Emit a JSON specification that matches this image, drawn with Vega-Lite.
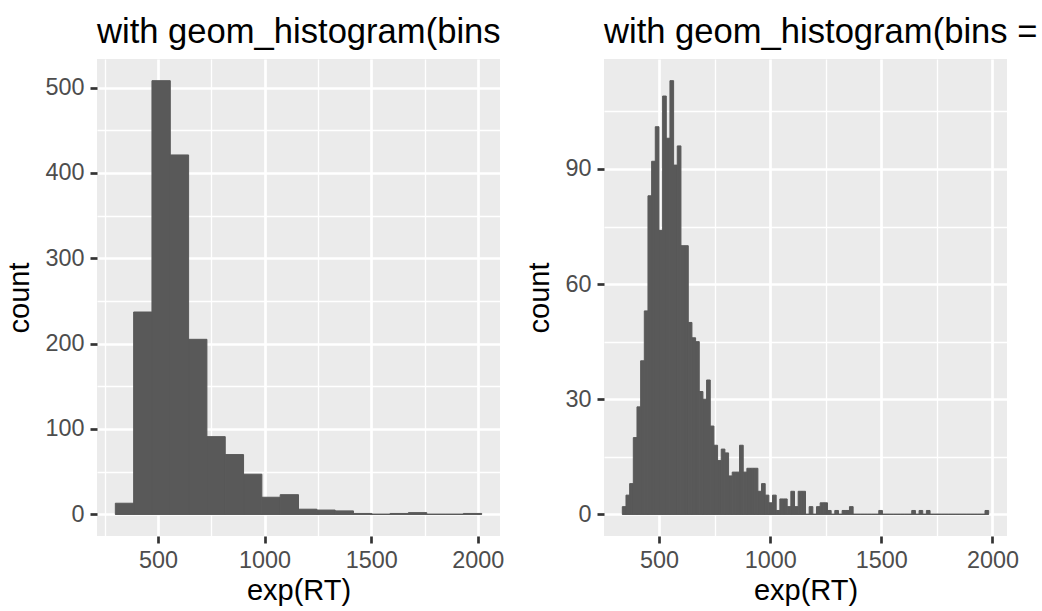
{
  "$schema": "https://vega.github.io/schema/vega-lite/v6.json",
  "padding": {"left": 5, "top": 15, "right": 0, "bottom": 0},
  "bounds": "flush",
  "spacing": 104,
  "datasets": {
    "bins20": [
      {"bin_start": 300.1, "bin_end": 386.0, "count": 13},
      {"bin_start": 386.0, "bin_end": 471.9, "count": 237},
      {"bin_start": 471.9, "bin_end": 557.8, "count": 508},
      {"bin_start": 557.8, "bin_end": 643.7, "count": 421},
      {"bin_start": 643.7, "bin_end": 729.6, "count": 205},
      {"bin_start": 729.6, "bin_end": 815.5, "count": 91},
      {"bin_start": 815.5, "bin_end": 901.4, "count": 70},
      {"bin_start": 901.4, "bin_end": 987.3, "count": 47},
      {"bin_start": 987.3, "bin_end": 1073.2, "count": 20},
      {"bin_start": 1073.2, "bin_end": 1159.1, "count": 23},
      {"bin_start": 1159.1, "bin_end": 1245.0, "count": 6},
      {"bin_start": 1245.0, "bin_end": 1330.9, "count": 5},
      {"bin_start": 1330.9, "bin_end": 1416.8, "count": 4},
      {"bin_start": 1416.8, "bin_end": 1502.7, "count": 1},
      {"bin_start": 1502.7, "bin_end": 1588.6, "count": 0},
      {"bin_start": 1588.6, "bin_end": 1674.5, "count": 1},
      {"bin_start": 1674.5, "bin_end": 1760.4, "count": 2},
      {"bin_start": 1760.4, "bin_end": 1846.3, "count": 0},
      {"bin_start": 1846.3, "bin_end": 1932.2, "count": 0},
      {"bin_start": 1932.2, "bin_end": 2018.1, "count": 1}
    ],
    "bins100": [
      {"bin_start": 334.76, "bin_end": 351.24, "count": 2},
      {"bin_start": 351.24, "bin_end": 367.73, "count": 5},
      {"bin_start": 367.73, "bin_end": 384.21, "count": 8},
      {"bin_start": 384.21, "bin_end": 400.70, "count": 20},
      {"bin_start": 400.70, "bin_end": 417.18, "count": 28},
      {"bin_start": 417.18, "bin_end": 433.67, "count": 40},
      {"bin_start": 433.67, "bin_end": 450.15, "count": 53},
      {"bin_start": 450.15, "bin_end": 466.64, "count": 83},
      {"bin_start": 466.64, "bin_end": 483.12, "count": 92},
      {"bin_start": 483.12, "bin_end": 499.61, "count": 101},
      {"bin_start": 499.61, "bin_end": 516.09, "count": 74},
      {"bin_start": 516.09, "bin_end": 532.58, "count": 109},
      {"bin_start": 532.58, "bin_end": 549.06, "count": 98},
      {"bin_start": 549.06, "bin_end": 565.55, "count": 113},
      {"bin_start": 565.55, "bin_end": 582.03, "count": 91},
      {"bin_start": 582.03, "bin_end": 598.52, "count": 96},
      {"bin_start": 598.52, "bin_end": 615.00, "count": 70},
      {"bin_start": 615.00, "bin_end": 631.49, "count": 70},
      {"bin_start": 631.49, "bin_end": 647.97, "count": 50},
      {"bin_start": 647.97, "bin_end": 664.46, "count": 46},
      {"bin_start": 664.46, "bin_end": 680.94, "count": 45},
      {"bin_start": 680.94, "bin_end": 697.43, "count": 32},
      {"bin_start": 697.43, "bin_end": 713.91, "count": 30},
      {"bin_start": 713.91, "bin_end": 730.40, "count": 35},
      {"bin_start": 730.40, "bin_end": 746.88, "count": 23},
      {"bin_start": 746.88, "bin_end": 763.37, "count": 18},
      {"bin_start": 763.37, "bin_end": 779.85, "count": 14},
      {"bin_start": 779.85, "bin_end": 796.34, "count": 17},
      {"bin_start": 796.34, "bin_end": 812.82, "count": 16},
      {"bin_start": 812.82, "bin_end": 829.31, "count": 10},
      {"bin_start": 829.31, "bin_end": 845.79, "count": 11},
      {"bin_start": 845.79, "bin_end": 862.28, "count": 11},
      {"bin_start": 862.28, "bin_end": 878.76, "count": 18},
      {"bin_start": 878.76, "bin_end": 895.25, "count": 11},
      {"bin_start": 895.25, "bin_end": 911.73, "count": 12},
      {"bin_start": 911.73, "bin_end": 928.22, "count": 12},
      {"bin_start": 928.22, "bin_end": 944.70, "count": 12},
      {"bin_start": 944.70, "bin_end": 961.19, "count": 6},
      {"bin_start": 961.19, "bin_end": 977.67, "count": 8},
      {"bin_start": 977.67, "bin_end": 994.16, "count": 5},
      {"bin_start": 994.16, "bin_end": 1010.64, "count": 3},
      {"bin_start": 1010.64, "bin_end": 1027.13, "count": 5},
      {"bin_start": 1027.13, "bin_end": 1043.61, "count": 1},
      {"bin_start": 1043.61, "bin_end": 1060.10, "count": 4},
      {"bin_start": 1060.10, "bin_end": 1076.58, "count": 4},
      {"bin_start": 1076.58, "bin_end": 1093.07, "count": 2},
      {"bin_start": 1093.07, "bin_end": 1109.55, "count": 6},
      {"bin_start": 1109.55, "bin_end": 1126.04, "count": 2},
      {"bin_start": 1126.04, "bin_end": 1142.52, "count": 6},
      {"bin_start": 1142.52, "bin_end": 1159.01, "count": 6},
      {"bin_start": 1159.01, "bin_end": 1175.49, "count": 0},
      {"bin_start": 1175.49, "bin_end": 1191.98, "count": 2},
      {"bin_start": 1191.98, "bin_end": 1208.46, "count": 0},
      {"bin_start": 1208.46, "bin_end": 1224.95, "count": 2},
      {"bin_start": 1224.95, "bin_end": 1241.43, "count": 3},
      {"bin_start": 1241.43, "bin_end": 1257.92, "count": 3},
      {"bin_start": 1257.92, "bin_end": 1274.40, "count": 1},
      {"bin_start": 1274.40, "bin_end": 1290.89, "count": 0},
      {"bin_start": 1290.89, "bin_end": 1307.37, "count": 1},
      {"bin_start": 1307.37, "bin_end": 1323.86, "count": 0},
      {"bin_start": 1323.86, "bin_end": 1340.34, "count": 1},
      {"bin_start": 1340.34, "bin_end": 1356.83, "count": 1},
      {"bin_start": 1356.83, "bin_end": 1373.31, "count": 2},
      {"bin_start": 1373.31, "bin_end": 1389.80, "count": 0},
      {"bin_start": 1389.80, "bin_end": 1406.28, "count": 0},
      {"bin_start": 1406.28, "bin_end": 1422.77, "count": 0},
      {"bin_start": 1422.77, "bin_end": 1439.25, "count": 0},
      {"bin_start": 1439.25, "bin_end": 1455.74, "count": 0},
      {"bin_start": 1455.74, "bin_end": 1472.22, "count": 0},
      {"bin_start": 1472.22, "bin_end": 1488.71, "count": 0},
      {"bin_start": 1488.71, "bin_end": 1505.19, "count": 1},
      {"bin_start": 1505.19, "bin_end": 1521.68, "count": 0},
      {"bin_start": 1521.68, "bin_end": 1538.16, "count": 0},
      {"bin_start": 1538.16, "bin_end": 1554.65, "count": 0},
      {"bin_start": 1554.65, "bin_end": 1571.13, "count": 0},
      {"bin_start": 1571.13, "bin_end": 1587.62, "count": 0},
      {"bin_start": 1587.62, "bin_end": 1604.10, "count": 0},
      {"bin_start": 1604.10, "bin_end": 1620.59, "count": 0},
      {"bin_start": 1620.59, "bin_end": 1637.07, "count": 0},
      {"bin_start": 1637.07, "bin_end": 1653.56, "count": 1},
      {"bin_start": 1653.56, "bin_end": 1670.04, "count": 0},
      {"bin_start": 1670.04, "bin_end": 1686.53, "count": 1},
      {"bin_start": 1686.53, "bin_end": 1703.01, "count": 0},
      {"bin_start": 1703.01, "bin_end": 1719.50, "count": 1},
      {"bin_start": 1719.50, "bin_end": 1735.98, "count": 0},
      {"bin_start": 1735.98, "bin_end": 1752.47, "count": 0},
      {"bin_start": 1752.47, "bin_end": 1768.95, "count": 0},
      {"bin_start": 1768.95, "bin_end": 1785.44, "count": 0},
      {"bin_start": 1785.44, "bin_end": 1801.92, "count": 0},
      {"bin_start": 1801.92, "bin_end": 1818.41, "count": 0},
      {"bin_start": 1818.41, "bin_end": 1834.89, "count": 0},
      {"bin_start": 1834.89, "bin_end": 1851.38, "count": 0},
      {"bin_start": 1851.38, "bin_end": 1867.86, "count": 0},
      {"bin_start": 1867.86, "bin_end": 1884.35, "count": 0},
      {"bin_start": 1884.35, "bin_end": 1900.83, "count": 0},
      {"bin_start": 1900.83, "bin_end": 1917.32, "count": 0},
      {"bin_start": 1917.32, "bin_end": 1933.80, "count": 0},
      {"bin_start": 1933.80, "bin_end": 1950.29, "count": 0},
      {"bin_start": 1950.29, "bin_end": 1966.77, "count": 0},
      {"bin_start": 1966.77, "bin_end": 1983.26, "count": 1}
    ]
  },
  "hconcat": [
    {
      "width": 403,
      "height": 477,
      "title": {"text": "with geom_histogram(bins = 20)", "limit": 425, "encoding": {"ellipsis": {"value": "\u200b"}}},
      "data": {"name": "bins20"},
      "resolve": {"axis": {"x": "independent", "y": "independent"}},
      "layer": [
        {
          "mark": {"type": "rule", "color": "#595959", "strokeWidth": 1},
          "encoding": {
            "x": {"aggregate": "min", "field": "bin_start", "type": "quantitative",
                  "scale": {"domain": [214.15, 2103.95], "nice": false, "zero": false},
                  "axis": {"orient": "bottom", "values": [250, 750, 1250, 1750], "grid": true, "gridWidth": 1.3, "labels": false, "ticks": false, "title": null}},
            "x2": {"aggregate": "max", "field": "bin_end"},
            "y": {"datum": 0, "type": "quantitative",
                  "scale": {"domain": [-25.4, 533.4], "nice": false, "zero": false},
                  "axis": {"orient": "left", "values": [50, 150, 250, 350, 450], "grid": true, "gridWidth": 1.3, "labels": false, "ticks": false, "title": null}}
          }
        },
        {
          "mark": {"type": "bar", "color": "#595959", "stroke": "#595959", "strokeWidth": 1},
          "encoding": {
            "x": {"field": "bin_start", "type": "quantitative",
                  "axis": {"orient": "bottom", "values": [500, 1000, 1500, 2000], "format": "d", "grid": true, "gridWidth": 2.7, "title": "exp(RT)"}},
            "x2": {"field": "bin_end"},
            "y": {"field": "count", "type": "quantitative",
                  "axis": {"orient": "left", "values": [0, 100, 200, 300, 400, 500], "format": "d", "grid": true, "gridWidth": 2.7, "title": "count"}},
            "y2": {"datum": 0}
          }
        }
      ]
    },
    {
      "width": 403,
      "height": 477,
      "title": {"text": "with geom_histogram(bins = 100)", "limit": 436, "encoding": {"ellipsis": {"value": "\u200b"}}},
      "data": {"name": "bins100"},
      "resolve": {"axis": {"x": "independent", "y": "independent"}},
      "layer": [
        {
          "mark": {"type": "rule", "color": "#595959", "strokeWidth": 1},
          "encoding": {
            "x": {"aggregate": "min", "field": "bin_start", "type": "quantitative",
                  "scale": {"domain": [252.3, 2065.7], "nice": false, "zero": false},
                  "axis": {"orient": "bottom", "values": [750, 1250, 1750], "grid": true, "gridWidth": 1.3, "labels": false, "ticks": false, "title": null}},
            "x2": {"aggregate": "max", "field": "bin_end"},
            "y": {"datum": 0, "type": "quantitative",
                  "scale": {"domain": [-5.65, 118.65], "nice": false, "zero": false},
                  "axis": {"orient": "left", "values": [15, 45, 75, 105], "grid": true, "gridWidth": 1.3, "labels": false, "ticks": false, "title": null}}
          }
        },
        {
          "mark": {"type": "bar", "color": "#595959", "stroke": "#595959", "strokeWidth": 1},
          "encoding": {
            "x": {"field": "bin_start", "type": "quantitative",
                  "axis": {"orient": "bottom", "values": [500, 1000, 1500, 2000], "format": "d", "grid": true, "gridWidth": 2.7, "title": "exp(RT)"}},
            "x2": {"field": "bin_end"},
            "y": {"field": "count", "type": "quantitative",
                  "axis": {"orient": "left", "values": [0, 30, 60, 90], "format": "d", "grid": true, "gridWidth": 2.7, "title": "count"}},
            "y2": {"datum": 0}
          }
        }
      ]
    }
  ],
  "config": {
    "font": "Liberation Sans",
    "view": {"fill": "#EBEBEB", "stroke": null},
    "axis": {
      "domain": false,
      "gridColor": "#FFFFFF",
      "gridOpacity": 1,
      "tickColor": "#333333",
      "tickSize": 7,
      "tickWidth": 2.7,
      "labelColor": "#4D4D4D",
      "labelFont": "Liberation Sans",
      "labelFontSize": 23.4,
      "labelPadding": 6,
      "labelFlush": false,
      "labelOverlap": false,
      "titleFont": "Liberation Sans",
      "titleFontSize": 29,
      "titleFontWeight": "normal",
      "titleColor": "#000000",
      "titlePadding": 5
    },
    "axisY": {"titlePadding": 10},
    "title": {
      "font": "Liberation Sans",
      "fontSize": 34.6,
      "fontWeight": "normal",
      "color": "#000000",
      "anchor": "start",
      "frame": "group",
      "baseline": "alphabetic",
      "offset": 8
    },
    "style": {"group-title": {"ellipsis": "\u200b"}}
  }
}
